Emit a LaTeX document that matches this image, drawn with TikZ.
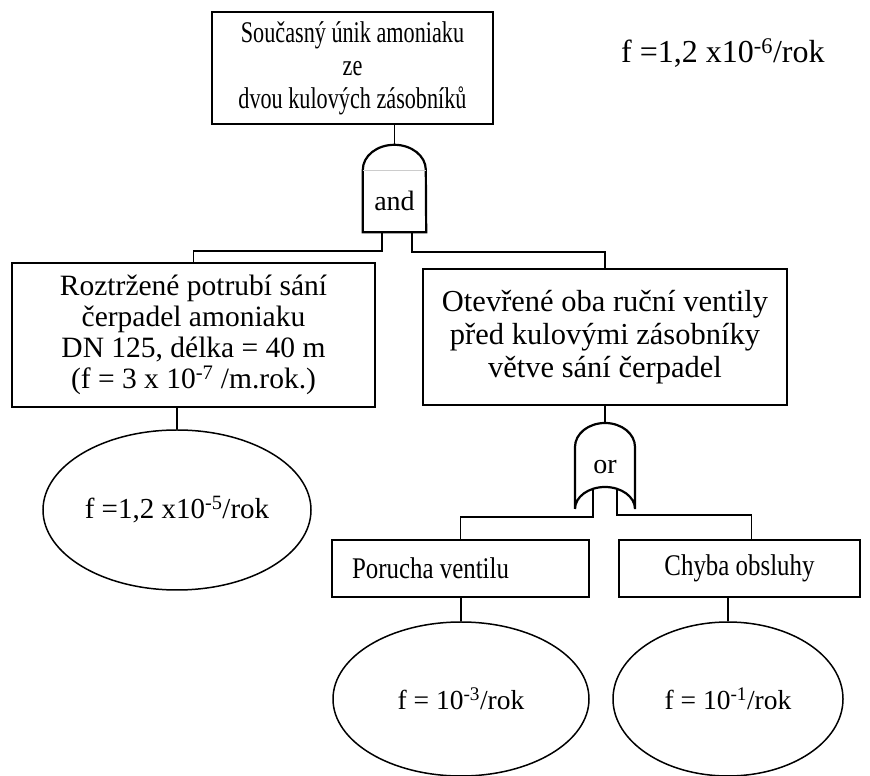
\documentclass[tikz,border=0pt]{standalone}
\usepackage{fontspec}
\setmainfont{Liberation Serif}
\newfontfamily\condfont[FakeStretch=0.74]{Liberation Serif}
\newfontfamily\narfont[FakeStretch=0.83]{Liberation Serif}
\usetikzlibrary{shapes}
\usetikzlibrary{positioning}
\tikzset{
    evbox/.style = {rectangle, line width=2pt, draw=black, align=center, inner sep=0pt, font=\fontsize{29.5}{31}\selectfont},
    evboxc/.style = {evbox, font=\condfont\fontsize{30}{33}\selectfont},
    evboxn/.style = {evbox, font=\narfont\fontsize{30}{31}\selectfont},
    evell/.style = {ellipse, line width=1.5pt, draw=black, inner sep=0pt, font=\fontsize{27.5}{31}\selectfont},
    gatetxt/.style = {inner sep=0pt, font=\fontsize{28}{31}\selectfont},
    gate/.style = {line width=2.2pt, draw=black},
    edgen/.style = {line width=1.8pt},
}

\begin{document}
\begin{tikzpicture}[x=1pt, y=1pt]
\useasboundingbox (0,0) rectangle (870,776);

\node[evboxc, minimum width=281pt, minimum height=112pt] at (352.5, 708) (top) {Současný únik amoniaku\\ze\\dvou kulových zásobníků};
\node[gatetxt, anchor=west, font=\fontsize{32}{34}\selectfont] at (621, 723) (ftop) {f =1,2 x10\textsuperscript{-6}/rok};

% and gate
\node[gatetxt, minimum width=63pt, minimum height=62pt] at (394.5, 575) (g1) {and};
\coordinate (g1top) at (394.5, 631);
\draw[gate] (g1.north west) arc (180:0:31.5 and 25) -- (g1.south east) -- (g1.south west) -- cycle;
\draw[gray!40, thin] (g1.north west) -- (g1.north east);

\node[evbox, minimum width=363pt, minimum height=144pt] at (193.5, 441) (b1) {Roztržené potrubí sání\\čerpadel amoniaku\\DN 125, délka = 40 m\\(f = 3 x 10\textsuperscript{-7} /m.rok.)};
\node[evbox, minimum width=364pt, minimum height=136pt, font=\fontsize{30.5}{33}\selectfont] at (605, 439) (b2) {Otevřené oba ruční ventily\\před kulovými zásobníky\\větve sání čerpadel};
\node[evell, minimum width=268pt, minimum height=160pt, font=\fontsize{29}{31}\selectfont] at (177, 266) (e1) {f =1,2 x10\textsuperscript{-5}/rok};
%
\draw[edgen] (top.south -| g1top) -- (g1top);
\draw[edgen] ([xshift=-12.5pt]g1.south) -- ++(0,-19) -| (b1.north);
\draw[edgen] ([xshift=17.5pt]g1.south) -- ++(0,-20) -| (b2.north);
\draw[edgen] (e1.north |- b1.south) -- (e1.north);

% or gate
\node[gatetxt] at (605, 309) (g2) {or};
\coordinate (g2top) at (605, 353);
\coordinate (g2l) at (593, 287);
\coordinate (g2r) at (617, 287);
\draw[gate] (575,267) -- (575,329) arc (180:0:30 and 24) -- (635,267) arc (0:180:30 and 22);

\node[evboxn, minimum width=257pt, minimum height=57pt, text width=217pt, align=flush left] at (460.5, 207.5) (b3) {Porucha ventilu};
\node[evboxn, minimum width=241pt, minimum height=57pt] at (739.5, 207.5) (b4) {Chyba obsluhy};
\node[evell, minimum width=256pt, minimum height=154pt] at (461, 77) (e2) {f = 10\textsuperscript{-3}/rok};
\node[evell, minimum width=230pt, minimum height=154pt] at (728, 77) (e3) {f = 10\textsuperscript{-1}/rok};
%
\draw[edgen] (b2.south) -- (g2top);
\draw[edgen] (g2l) -- ++(0,-28) -| (b3.north);
\draw[edgen] (g2r) -- ++(0,-26) -| ([xshift=12pt]b4.north);
\draw[edgen] (e2.north |- b3.south) -- (e2.north);
\draw[edgen] (b4.south -| e3.north) -- (e3.north);

\end{tikzpicture}
\end{document}
